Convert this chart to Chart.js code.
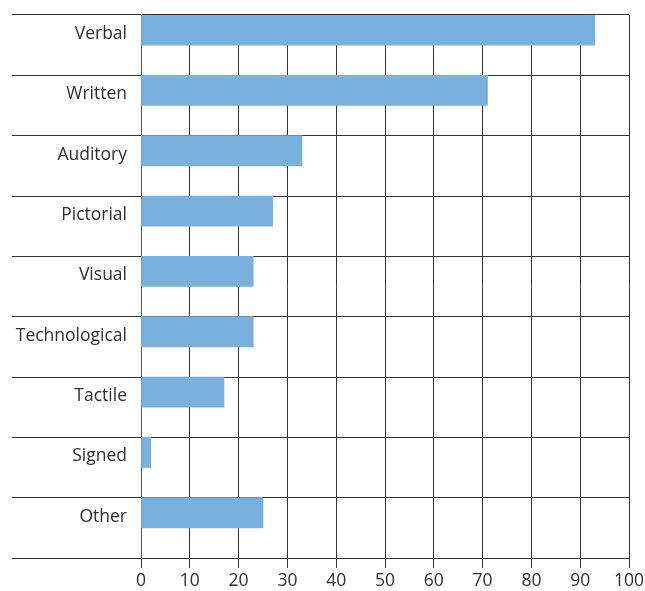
<!DOCTYPE html>
<html>
<head>
<meta charset="utf-8">
<script src="https://cdn.jsdelivr.net/npm/chart.js@4/dist/chart.umd.min.js"></script>
<style>
  html, body { margin: 0; padding: 0; background: #fff; }
  #wrap { width: 645px; height: 591px; }
</style>
</head>
<body>
<div id="wrap"><canvas id="chart"></canvas></div>
<script>
// categories and values
const categories = ['Verbal', 'Written', 'Auditory', 'Pictorial', 'Visual', 'Technological', 'Tactile', 'Signed', 'Other'];
const values = [93, 71, 33, 27, 23, 23, 17, 2, 25];
const xTicks = [0, 10, 20, 30, 40, 50, 60, 70, 80, 90, 100];

const lineColor = '#333333';
const textColor = '#2e2e2e';
const labelFont = { family: 'Open Sans', size: 17.5 };

// empty second series so every bar sits in the upper half of its row
const spacer = categories.map(() => null);

new Chart(document.getElementById('chart').getContext('2d'), {
  type: 'bar',
  data: {
    labels: categories,
    datasets: [
      { data: values, backgroundColor: '#79b0dd', borderWidth: 0 },
      { data: spacer, backgroundColor: 'rgba(0,0,0,0)' }
    ]
  },
  options: {
    indexAxis: 'y',
    responsive: true,
    maintainAspectRatio: false,
    animation: false,
    layout: { padding: { left: 12, right: 16, top: 15, bottom: 0 } },
    datasets: { bar: { barPercentage: 1, categoryPercentage: 1 } },
    plugins: { legend: { display: false }, tooltip: { enabled: false } },
    scales: {
      x: {
        min: 0,
        max: 100,
        afterBuildTicks: (scale) => { scale.ticks = xTicks.map(v => ({ value: v })); },
        afterFit: (scale) => {
          scale.height = 33;
          scale.paddingRight = 0;
          scale.paddingLeft = 0;
        },
        grid: { color: lineColor, lineWidth: 1, tickLength: 10 },
        border: { color: lineColor },
        ticks: { color: textColor, padding: 3, font: labelFont }
      },
      y: {
        afterFit: (scale) => { scale.width = 129; },
        grid: { color: lineColor, lineWidth: 1, tickLength: 129, offset: true },
        border: { color: '#555555' },
        ticks: {
          color: textColor,
          padding: -115,
          labelOffset: -11,
          font: labelFont
        }
      }
    }
  }
});
</script>
</body>
</html>
